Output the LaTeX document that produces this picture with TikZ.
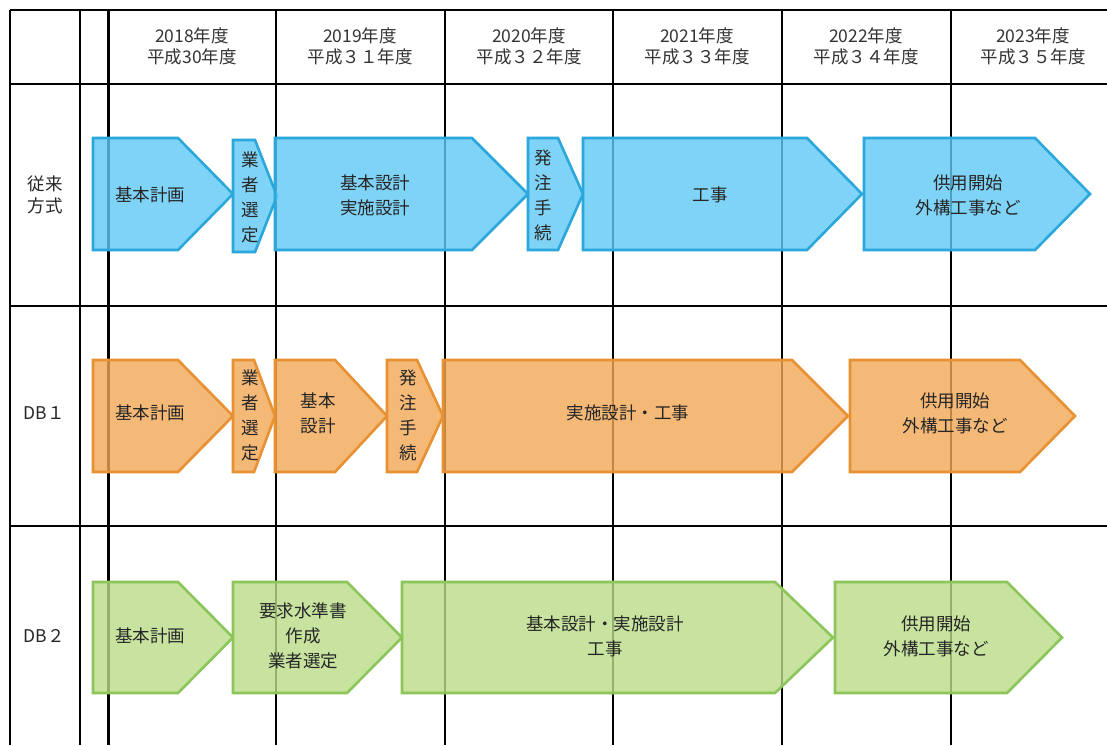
\documentclass[tikz,border=0pt]{standalone}
\usepackage{fontspec}
\setmainfont{Noto Sans CJK JP}
\begin{document}
\begin{tikzpicture}[x=1pt,y=-1pt,
  grid/.style={line width=2.2pt,black},
  gridb/.style={line width=3pt,black},
  hdr/.style={font=\fontsize{17.5}{21}\selectfont,align=center,text=black!80,inner sep=0pt},
  lbl/.style={font=\fontsize{17.5}{25}\selectfont,align=center,text=black!85,inner sep=0pt},
  blueS/.style={draw={rgb,255:red,42;green,167;blue,219},fill={rgb,255:red,95;green,200;blue,244},fill opacity=0.8,line width=2.6pt,line join=miter},
  orangeS/.style={draw={rgb,255:red,232;green,145;blue,50},fill={rgb,255:red,242;green,167;blue,86},fill opacity=0.8,line width=2.6pt,line join=miter},
  greenS/.style={draw={rgb,255:red,140;green,198;blue,90},fill={rgb,255:red,186;green,221;blue,136},fill opacity=0.8,line width=2.6pt,line join=miter}
]
\useasboundingbox (0,0) rectangle (1107,745);
\fill[white] (0,0) rectangle (1107,745);
% grid
\draw[grid] (10,10) -- (1107,10);
\draw[grid] (10,10) -- (10,745);
\draw[grid] (80,10) -- (80,745);
\draw[gridb] (108,10) -- (108,745);
\foreach \x in {276,445,613,782,951} \draw[grid] (\x,10) -- (\x,745);
\foreach \y in {84,306,526} \draw[grid] (10,\y) -- (1107,\y);
% headers
\node[hdr] (h1) at (192,46) {2018年度\\平成30年度};
\node[hdr] (h2) at (360,46) {2019年度\\平成３１年度};
\node[hdr] (h3) at (529,46) {2020年度\\平成３２年度};
\node[hdr] (h4) at (697,46) {2021年度\\平成３３年度};
\node[hdr] (h5) at (866,46) {2022年度\\平成３４年度};
\node[hdr] (h6) at (1033,46) {2023年度\\平成３５年度};
% row labels
\node[lbl,font=\fontsize{17.5}{22}\selectfont] (r1) at (45,195) {従来\\方式};
\node[lbl] (r2) at (44,413) {DB１};
\node[lbl] (r3) at (44,636) {DB２};
% chevron macro: #1 style, #2 x left, #3 x chevron start, #4 x tip, #5 y top, #6 y bottom
\newcommand\chevshape[6]{\path[#1] (#2,#5) -- (#3,#5) -- (#4,{(#5+#6)/2}) -- (#3,#6) -- (#2,#6) -- cycle;}
% row 1 blue
\chevshape{blueS}{93}{178}{233}{138}{250}
\chevshape{blueS}{233}{255}{277}{140}{252}
\chevshape{blueS}{275}{472}{528}{138}{250}
\chevshape{blueS}{528}{558}{583}{138}{250}
\chevshape{blueS}{583}{807}{862}{138}{250}
\chevshape{blueS}{864}{1035}{1090}{138}{250}
\node[lbl] (a1) at (150,195) {基本計画};
\node[lbl] (a2) at (250,197) {業\\者\\選\\定};
\node[lbl] (a3) at (375,195) {基本設計\\実施設計};
\node[lbl] (a4) at (543,195) {発\\注\\手\\続};
\node[lbl] (a5) at (710,195) {工事};
\node[lbl] (a6) at (968,195) {供用開始\\外構工事など};
% row 2 orange
\chevshape{orangeS}{93}{178}{233}{360}{472}
\chevshape{orangeS}{233}{254}{275}{360}{472}
\chevshape{orangeS}{275}{335}{387}{360}{472}
\chevshape{orangeS}{387}{417}{443}{360}{472}
\chevshape{orangeS}{443}{792}{848}{360}{472}
\chevshape{orangeS}{850}{1020}{1075}{360}{472}
\node[lbl] (b1) at (150,413) {基本計画};
\node[lbl] (b2) at (250,415) {業\\者\\選\\定};
\node[lbl] (b3) at (318,413) {基本\\設計};
\node[lbl] (b4) at (408,415) {発\\注\\手\\続};
\node[lbl] (b5) at (628,413) {実施設計・工事};
\node[lbl] (b6) at (955,413) {供用開始\\外構工事など};
% row 3 green
\chevshape{greenS}{93}{178}{233}{582}{693}
\chevshape{greenS}{233}{347}{402}{582}{693}
\chevshape{greenS}{402}{775}{833}{582}{693}
\chevshape{greenS}{835}{1007}{1062}{582}{693}
\node[lbl] (c1) at (150,636) {基本計画};
\node[lbl] (c2) at (303,636) {要求水準書\\作成\\業者選定};
\node[lbl] (c3) at (605,636) {基本設計・実施設計\\工事};
\node[lbl] (c4) at (936,636) {供用開始\\外構工事など};
\end{tikzpicture}
\end{document}
